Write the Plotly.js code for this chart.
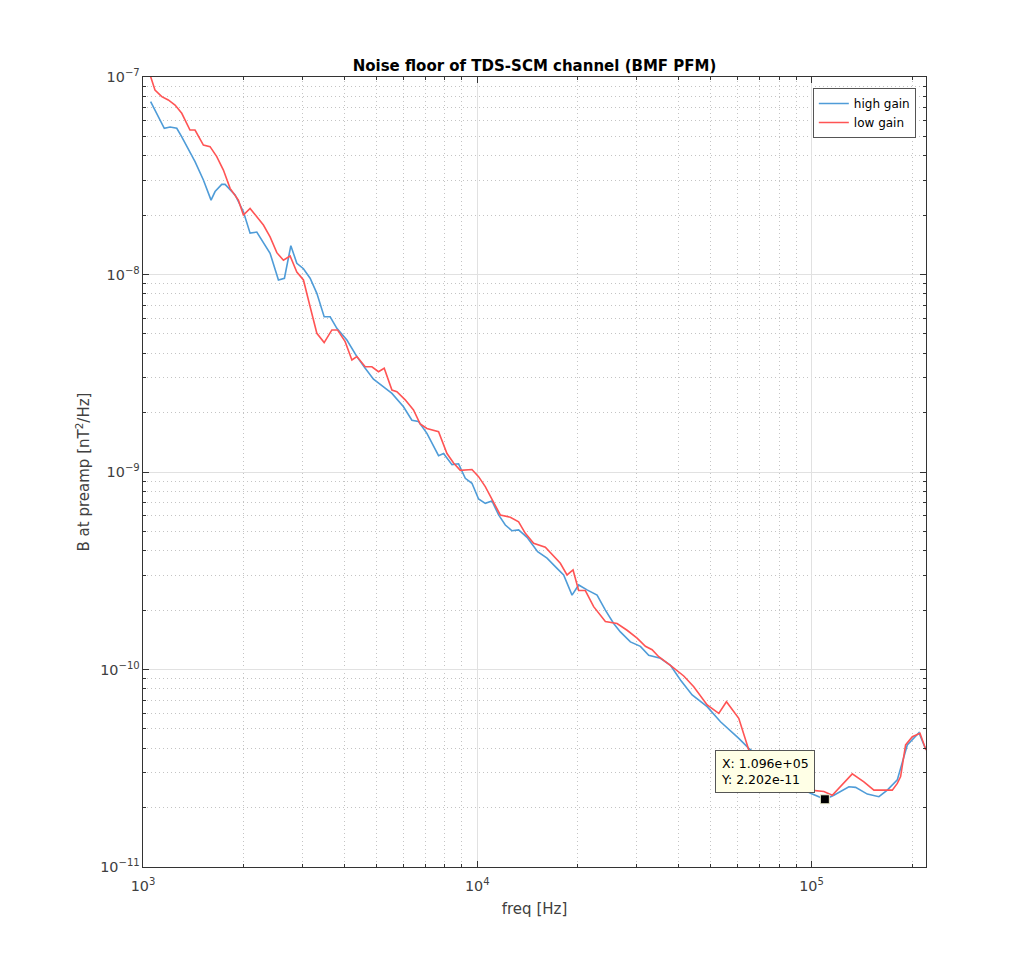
<!DOCTYPE html>
<html>
<head>
<meta charset="utf-8">
<script src="https://cdn.plot.ly/plotly-3.0.1.min.js"></script>
<style>html,body{margin:0;padding:0;background:#fff;}#chart{width:1026px;height:971px;}</style>
</head>
<body>
<div id="chart"></div>
<script>
// ---- data ----
const highGainFreq = [1054,1158,1205,1262,1306,1431,1516,1598,1643,1720,1760,1886,1997,2091,2190,2400,2542,2649,2769,2885,3020,3162,3312,3483,3630,3801,4073,4364,4621,4893,5243,5555,6016,6374,6671,7070,7660,7928,8401,8792,9208,9641,10090,10567,11066,11584,12131,12704,13295,14088,15155,16170,17323,18130,19210,20104,21301,22823,24167,25589,26799,28712,30763,32574,35313,37835,40537,43940,48717,53403,60575,64906,75398,89557,99314,109600,116630,129330,135450,146850,159060,168540,180540,193400,209630,220000];
const highGainB = [7.50e-8,5.50e-8,5.58e-8,5.50e-8,4.98e-8,3.73e-8,3.01e-8,2.38e-8,2.63e-8,2.86e-8,2.86e-8,2.53e-8,2.08e-8,1.62e-8,1.64e-8,1.28e-8,9.38e-9,9.57e-9,1.40e-8,1.14e-8,1.07e-8,9.57e-9,8.03e-9,6.11e-9,6.11e-9,5.34e-9,4.66e-9,3.84e-9,3.35e-9,2.95e-9,2.70e-9,2.50e-9,2.14e-9,1.83e-9,1.80e-9,1.57e-9,1.21e-9,1.24e-9,1.09e-9,1.10e-9,9.29e-10,8.77e-10,7.30e-10,6.94e-10,7.13e-10,6.06e-10,5.39e-10,5.04e-10,5.09e-10,4.67e-10,3.95e-10,3.66e-10,3.25e-10,3.01e-10,2.38e-10,2.68e-10,2.53e-10,2.38e-10,2.00e-10,1.71e-10,1.55e-10,1.38e-10,1.31e-10,1.18e-10,1.14e-10,1.05e-10,8.85e-11,7.43e-11,6.48e-11,5.44e-11,4.48e-11,3.99e-11,3.28e-11,2.60e-11,2.36e-11,2.202e-11,2.31e-11,2.55e-11,2.53e-11,2.34e-11,2.27e-11,2.45e-11,2.76e-11,4.15e-11,4.79e-11,3.91e-11];

const lowGainFreq = [1049,1086,1138,1190,1247,1306,1382,1431,1516,1587,1662,1740,1822,1929,1997,2091,2190,2292,2400,2514,2631,2755,2885,3020,3162,3312,3483,3673,3817,4025,4216,4364,4621,4839,5065,5268,5555,5748,6087,6445,6750,7070,7660,8116,8494,8896,9641,10090,10567,11066,11720,12556,13295,13924,14743,15981,16922,17722,18558,19343,20104,21053,22294,24167,26196,28066,30071,31841,33346,34901,37835,41470,44427,48717,52781,55648,60575,64906,75398,89557,99314,108850,115350,123570,132400,143420,153670,174420,180540,184690,191160,200240,211090,220000];
const lowGainB = [1.03e-7,8.59e-8,7.95e-8,7.65e-8,7.21e-8,6.55e-8,5.39e-8,5.39e-8,4.52e-8,4.44e-8,3.95e-8,3.38e-8,2.73e-8,2.38e-8,2.00e-8,2.16e-8,1.96e-8,1.78e-8,1.55e-8,1.29e-8,1.18e-8,1.24e-8,1.03e-8,9.38e-9,6.87e-9,5.04e-9,4.52e-9,5.24e-9,5.24e-9,4.57e-9,3.69e-9,3.84e-9,3.41e-9,3.41e-9,3.22e-9,3.35e-9,2.60e-9,2.55e-9,2.32e-9,2.06e-9,1.75e-9,1.66e-9,1.60e-9,1.24e-9,1.11e-9,1.02e-9,1.03e-9,9.47e-10,8.43e-10,7.22e-10,6.06e-10,5.90e-10,5.60e-10,4.89e-10,4.36e-10,4.16e-10,3.73e-10,3.45e-10,3.01e-10,3.19e-10,2.51e-10,2.51e-10,2.08e-10,1.75e-10,1.71e-10,1.58e-10,1.44e-10,1.31e-10,1.26e-10,1.16e-10,1.05e-10,9.27e-11,8.18e-11,6.61e-11,6.00e-11,6.87e-11,5.66e-11,3.91e-11,3.17e-11,2.63e-11,2.45e-11,2.41e-11,2.31e-11,2.60e-11,2.96e-11,2.70e-11,2.45e-11,2.45e-11,2.65e-11,2.87e-11,4.15e-11,4.57e-11,4.75e-11,3.91e-11];

const seriesNames = ["high gain", "low gain"];
const datatipX = [1.096e5];
const datatipY = [2.202e-11];
const xRange = [1e3, 2.2e5];
const yRange = [1e-11, 1e-7];

// ---- styles ----
const axisColor = "#333333";
const tickFont = {family: "DejaVu Sans, sans-serif", size: 11.5, color: "#404040"};

const traces = [
  {x: highGainFreq, y: highGainB, name: seriesNames[0], type: "scatter", mode: "lines",
   line: {color: "#4f9cd8", width: 1.6}},
  {x: lowGainFreq, y: lowGainB, name: seriesNames[1], type: "scatter", mode: "lines",
   line: {color: "#ff5454", width: 1.6}},
  {x: datatipX, y: datatipY, type: "scatter", mode: "markers", showlegend: false,
   marker: {symbol: "square", size: 9, color: "#000000", line: {color: "#f0f0d0", width: 1}},
   hoverinfo: "skip"}
];

function fmtExp(v, digits) {
  let s = v.toExponential(digits);
  return s.replace(/e([+-])(\d)$/, "e$10$2");
}

const commonAxis = {
  type: "log",
  showline: true, linecolor: axisColor, linewidth: 1, mirror: "ticks",
  ticks: "inside", ticklen: 6, tickcolor: axisColor, tickwidth: 1,
  dtick: 1, exponentformat: "power",
  showgrid: true, gridcolor: "#e1e1e1", gridwidth: 1,
  minor: {dtick: "D1", showgrid: true, gridcolor: "#c4c4c4", griddash: "1px,3px",
          ticks: "inside", ticklen: 3, tickcolor: axisColor},
  tickfont: tickFont, zeroline: false
};

const layout = {
  width: 1026, height: 971,
  paper_bgcolor: "#ffffff", plot_bgcolor: "#ffffff",
  margin: {l: 143, r: 100, t: 77, b: 104},
  font: {family: "DejaVu Sans, sans-serif", color: axisColor},
  title: {text: "<b>Noise floor of TDS-SCM channel (BMF PFM)</b>",
          font: {family: "DejaVu Sans, sans-serif", size: 15, color: "#000000"},
          x: 0.5, xref: "paper", xanchor: "center",
          y: 1, yref: "paper", yanchor: "bottom", pad: {b: 6}},
  xaxis: Object.assign({}, commonAxis, {
    range: [Math.log10(xRange[0]), Math.log10(xRange[1])],
    ticklabelstandoff: 6,
    title: {text: "freq [Hz]", font: {size: 15, color: "#404040"}, standoff: 10}
  }),
  yaxis: Object.assign({}, commonAxis, {
    range: [Math.log10(yRange[0]), Math.log10(yRange[1])],
    title: {text: "B at preamp [nT<sup>2</sup>/Hz]", font: {size: 15, color: "#404040"}, standoff: 6}
  }),
  legend: {x: 0.987, y: 0.986, xanchor: "right", yanchor: "top",
           bgcolor: "#ffffff", bordercolor: "#555555", borderwidth: 1,
           font: {size: 12, color: "#000000"}, tracegroupgap: 0, itemwidth: 30},
  showlegend: true,
  annotations: [{
    x: Math.log10(datatipX[0]), y: Math.log10(datatipY[0]), xref: "x", yref: "y",
    text: "X: " + fmtExp(datatipX[0], 3) + "<br>Y: " + fmtExp(datatipY[0], 3),
    showarrow: false, xanchor: "right", yanchor: "bottom", xshift: -10, yshift: 6,
    align: "left", bgcolor: "#ffffe6", bordercolor: "#555555", borderwidth: 1, borderpad: 5,
    font: {family: "DejaVu Sans, sans-serif", size: 12.5, color: "#000000"}
  }]
};

Plotly.newPlot("chart", traces, layout, {staticPlot: true, displayModeBar: false});
</script>
</body>
</html>
